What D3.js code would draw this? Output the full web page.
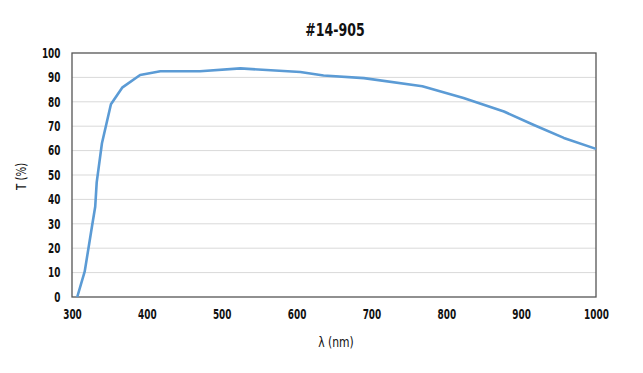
<!DOCTYPE html>
<html>
<head>
<meta charset="utf-8">
<script src="https://cdn.jsdelivr.net/npm/d3@7"></script>
<style>
  html, body { margin: 0; padding: 0; background: #fff; }
  svg text { font-family: "DejaVu Sans", sans-serif; fill: #111; }
</style>
</head>
<body>
<div id="chart"></div>
<script>
// wavelength (nm) and transmission (%)
const wavelength = [307, 317, 322, 327, 331, 333, 340, 352, 367, 391, 418, 471, 525, 605, 636, 690, 768, 823, 877, 917, 957, 1000];
const transmission = [0, 10.5, 20, 29.5, 37, 47, 63, 79, 85.8, 91, 92.5, 92.5, 93.7, 92.2, 90.8, 89.7, 86.4, 81.6, 76, 70.5, 65.2, 60.7];
const xTicks = [300, 400, 500, 600, 700, 800, 900, 1000];
const yTicks = [0, 10, 20, 30, 40, 50, 60, 70, 80, 90, 100];

const width = 643, height = 373;
const m = {left: 72, right: 47, top: 53, bottom: 76};
// the original uses a condensed face, so squeeze DejaVu horizontally
const squeeze = 0.66;

const svg = d3.select("#chart").append("svg")
  .attr("width", width).attr("height", height);

const x = d3.scaleLinear().domain([300, 1000]).range([m.left, width - m.right]);
const y = d3.scaleLinear().domain([0, 100]).range([height - m.bottom, m.top]);

// gridlines
svg.append("g")
  .selectAll("line")
  .data(yTicks.slice(1, -1))
  .join("line")
    .attr("x1", x(300)).attr("x2", x(1000))
    .attr("y1", d => y(d)).attr("y2", d => y(d))
    .attr("stroke", "#d9d9d9").attr("stroke-width", 1);

// frame
svg.append("rect")
  .attr("x", x(300)).attr("y", y(100))
  .attr("width", x(1000) - x(300)).attr("height", y(0) - y(100))
  .attr("fill", "none").attr("stroke", "#555").attr("stroke-width", 1.3);

// axes (labels only)
const xAxis = svg.append("g")
  .attr("transform", `translate(0,${y(0)})`)
  .call(d3.axisBottom(x).tickValues(xTicks).tickSize(0).tickPadding(12.5).tickFormat(d3.format("d")));
const yAxis = svg.append("g")
  .attr("transform", `translate(${x(300)},0)`)
  .call(d3.axisLeft(y).tickValues(yTicks).tickSize(0).tickPadding(0).tickFormat(d3.format("d")));
[xAxis, yAxis].forEach(a => {
  a.select(".domain").remove();
  a.selectAll("text").attr("font-size", 13.5).attr("font-weight", "bold").attr("fill", "#111")
    .style("font-family", '"DejaVu Sans", sans-serif');
});
xAxis.selectAll("text").attr("transform", `scale(${squeeze},1)`).attr("x", 0);
yAxis.selectAll("text").attr("x", 0).attr("transform", `translate(-11.5,0) scale(${squeeze},1)`);

// curve
const pts = wavelength.map((w, i) => [w, transmission[i]]);
svg.append("path")
  .datum(pts)
  .attr("fill", "none")
  .attr("stroke", "#5b9bd5")
  .attr("stroke-width", 2.6)
  .attr("stroke-linejoin", "round")
  .attr("d", d3.line().x(d => x(d[0])).y(d => y(d[1])));

// titles
svg.append("text")
  .attr("transform", "translate(335,35.5) scale(0.74,1)")
  .attr("text-anchor", "middle")
  .attr("font-size", 17).attr("font-weight", "bold")
  .text("#14-905");

svg.append("text")
  .attr("transform", "translate(336,346.5) scale(0.8,1)")
  .attr("text-anchor", "middle")
  .attr("font-size", 13.5)
  .text("λ (nm)");

svg.append("text")
  .attr("transform", `translate(26,176.5) rotate(-90) scale(0.76,1)`)
  .attr("text-anchor", "middle")
  .attr("font-size", 13.5)
  .text("T (%)");
</script>
</body>
</html>
